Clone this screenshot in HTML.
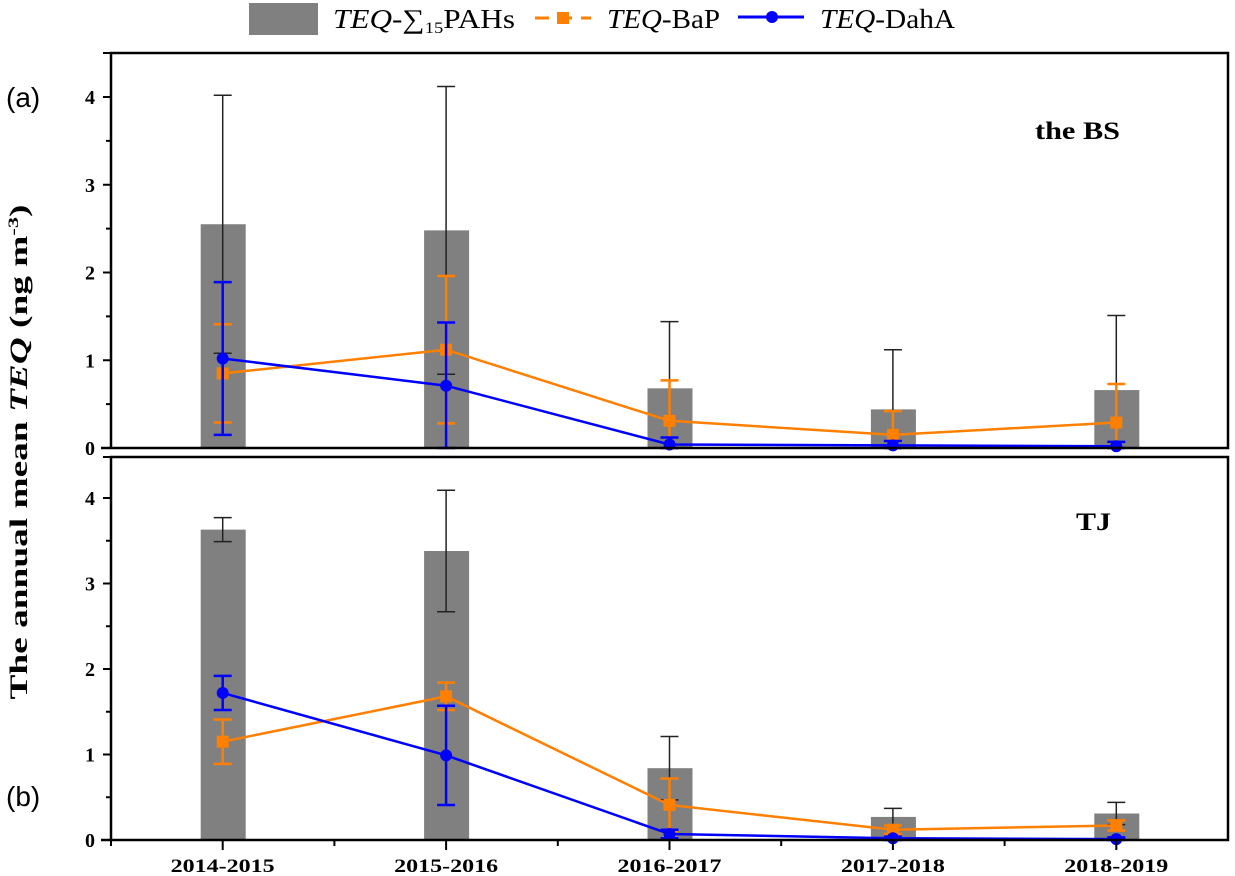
<!DOCTYPE html>
<html><head><meta charset="utf-8"><style>
body{margin:0;background:#fff;width:1235px;height:876px;overflow:hidden}
svg{display:block}
text{font-family:"Liberation Serif",serif}
</style></head><body>
<svg id="c" width="1235" height="876"></svg>
<script>
const categories=["2014-2015","2015-2016","2016-2017","2017-2018","2018-2019"];
const aBar=[2.55,2.48,0.68,0.44,0.66];
const aBarErr=[1.47,1.64,0.76,0.68,0.85];
const aBaP=[0.85,1.12,0.31,0.15,0.29];
const aBaPErr=[0.56,0.84,0.46,0.27,0.44];
const aDahA=[1.02,0.71,0.04,0.03,0.02];
const aDahAErr=[0.87,0.72,0.08,0.05,0.05];
const bBar=[3.63,3.38,0.84,0.27,0.31];
const bBarErr=[0.14,0.71,0.37,0.10,0.13];
const bBaP=[1.15,1.68,0.41,0.12,0.17];
const bBaPErr=[0.26,0.16,0.31,0.05,0.06];
const bDahA=[1.72,0.99,0.07,0.02,0.01];
const bDahAErr=[0.20,0.58,0.05,0.02,0.02];
const yTicks=[0,1,2,3,4];
const NS="http://www.w3.org/2000/svg";
const svg=document.getElementById('c');
function mk(t,a,p){const e=document.createElementNS(NS,t);for(const k in a)e.setAttribute(k,a[k]);(p||svg).appendChild(e);return e;}
const x0=111,x1=1228;
const xs=i=>x0+(x1-x0)/categories.length*(i+0.5);
function panel(top,zero,max,bars,barErr,bap,bapErr,dah,dahErr,label,name){
  const g=mk('g',{});
  
  
  const ys=v=>zero-(zero-top)*v/max;
  categories.forEach((c,i)=>{
    const r=mk('rect',{x:xs(i)-22,y:ys(bars[i]),width:45,height:zero-ys(bars[i]),fill:'#808080'},g);
    
    
    const x=xs(i),ty=ys(bars[i]+barErr[i]),by=Math.min(zero,ys(bars[i]-barErr[i]));
    mk('line',{x1:x,x2:x,y1:ty,y2:by,stroke:'#222','stroke-width':1.5},g);
    mk('line',{x1:x-9,x2:x+9,y1:ty,y2:ty,stroke:'#222','stroke-width':1.5},g);
    if(by<zero-1)mk('line',{x1:x-9,x2:x+9,y1:by,y2:by,stroke:'#222','stroke-width':1.5},g);
  });
  function series(vals,errs,col,marker,sname){
    mk('polyline',{points:vals.map((v,i)=>xs(i)+','+ys(v)).join(' '),fill:'none',stroke:col,'stroke-width':2.5},g);
    vals.forEach((v,i)=>{
      const x=xs(i),ty=ys(v+errs[i]),by=Math.min(zero,ys(Math.max(0,v-errs[i])));
      mk('line',{x1:x,x2:x,y1:ty,y2:by,stroke:col,'stroke-width':2.5},g);
      mk('line',{x1:x-9,x2:x+9,y1:ty,y2:ty,stroke:col,'stroke-width':2.5},g);
      mk('line',{x1:x-9,x2:x+9,y1:by,y2:by,stroke:col,'stroke-width':2.5},g);
      const m=marker==='sq'?mk('rect',{x:x-6,y:ys(v)-6,width:12,height:12,fill:col},g):mk('circle',{cx:x,cy:ys(v),r:6,fill:col},g);
      
      
    });
  }
  series(bap,bapErr,'#ff7f00','sq','bap');
  series(dah,dahErr,'#0000ff','ci','daha');
  yTicks.forEach(t=>{
    const y=ys(t);
    mk('line',{x1:x0-8,x2:x0,y1:y,y2:y,stroke:'#000','stroke-width':2},g);
    const tx=mk('text',{x:x0-16,y:y+7,'text-anchor':'end','font-size':20,'font-weight':'bold'},g);tx.textContent=t;
    if(t<4){const yh=ys(t+0.5);mk('line',{x1:x0-5,x2:x0,y1:yh,y2:yh,stroke:'#000','stroke-width':2},g);}
  });
  const lt=mk('text',{x:label[1],y:label[2],'font-size':25,'font-weight':'bold',textLength:label[3],lengthAdjust:'spacingAndGlyphs'},g);lt.textContent=label[0];
  
  
  return ys;
}
panel(97,448,4,aBar,aBarErr,aBaP,aBaPErr,aDahA,aDahAErr,["the BS",1035,139,85],'panel-a');
panel(498,840,4,bBar,bBarErr,bBaP,bBaPErr,bDahA,bDahAErr,["TJ",1076,530,35],'panel-b');
mk('path',{d:`M${x0},448 V53 H${x1} V448 H${x0-10}`,fill:'none',stroke:'#000','stroke-width':2.5});
mk('path',{d:`M${x0},840 V457 H${x1} V840 H${x0-10}`,fill:'none',stroke:'#000','stroke-width':2.5});
mk('line',{x1:x0-8,x2:x0,y1:53,y2:53,stroke:'#000','stroke-width':2});
mk('line',{x1:x0-8,x2:x0,y1:457,y2:457,stroke:'#000','stroke-width':2});
categories.forEach((c,i)=>{
  const x=xs(i);
  mk('line',{x1:x,x2:x,y1:840,y2:850,stroke:'#000','stroke-width':2});
  mk('line',{x1:x0+(x1-x0)/5*i,x2:x0+(x1-x0)/5*i,y1:840,y2:846,stroke:'#000','stroke-width':2});
  const t=mk('text',{x:x-52,y:872,'font-size':19,'font-weight':'bold',textLength:104,lengthAdjust:'spacingAndGlyphs'});t.textContent=c;
  
  
});
const yt=mk('text',{x:0,y:0,transform:'translate(27,452) rotate(-90)','text-anchor':'middle','font-size':25,'font-weight':'bold',textLength:495,lengthAdjust:'spacingAndGlyphs'});
yt.innerHTML='The annual mean <tspan font-style="italic">TEQ</tspan> (ng m<tspan dy="-9" font-size="15">-3</tspan><tspan dy="9">)</tspan>';


const la=mk('text',{x:6,y:107,'font-size':28,style:'font-family:"Liberation Sans",sans-serif'});la.textContent='(a)';


const lb=mk('text',{x:6,y:806,'font-size':28,style:'font-family:"Liberation Sans",sans-serif'});lb.textContent='(b)';


const lg=mk('g',{});


mk('rect',{x:249,y:3,width:69,height:32,fill:'#808080'},lg);
let t1=mk('text',{x:333,y:28,'font-size':27,textLength:182,lengthAdjust:'spacingAndGlyphs'},lg);t1.innerHTML='<tspan font-style="italic">TEQ</tspan>-∑<tspan font-size="16" dy="5">15</tspan><tspan dy="-5">PAHs</tspan>';
mk('line',{x1:535,x2:591,y1:18,y2:18,stroke:'#ff7f00','stroke-width':3,'stroke-dasharray':'14,9'},lg);
mk('rect',{x:557,y:12,width:12,height:12,fill:'#ff7f00'},lg);
let t2=mk('text',{x:607,y:28,'font-size':27,textLength:113,lengthAdjust:'spacingAndGlyphs'},lg);t2.innerHTML='<tspan font-style="italic">TEQ</tspan>-BaP';
mk('line',{x1:738,x2:804,y1:17,y2:17,stroke:'#0000ff','stroke-width':3},lg);
mk('circle',{cx:772,cy:17,r:6,fill:'#0000ff'},lg);
let t3=mk('text',{x:820,y:28,'font-size':27,textLength:135,lengthAdjust:'spacingAndGlyphs'},lg);t3.innerHTML='<tspan font-style="italic">TEQ</tspan>-DahA';
</script>
</body></html>
